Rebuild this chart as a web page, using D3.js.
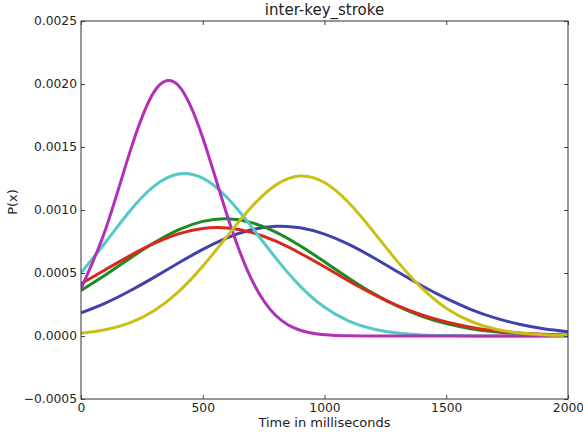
<!DOCTYPE html>
<html>
<head>
<meta charset="utf-8">
<script src="https://cdn.jsdelivr.net/npm/d3@7"></script>
<style>
  html, body { margin: 0; padding: 0; background: #fff; }
  #chart { width: 583px; height: 432px; }
  text { font-family: "DejaVu Sans", sans-serif; fill: #222; }
</style>
</head>
<body>
<div id="chart"></div>
<script>
// x sample points (ms)
const timeMs = [0, 100, 200, 300, 400, 500, 600, 700, 800, 900, 1000,
    1100, 1200, 1300, 1400, 1500, 1600, 1700, 1800, 1900, 2000];

// density values, one array per curve
const blueVals = [0.000183, 0.000261, 0.000357, 0.000465, 0.000579, 0.000687, 0.000779, 0.000843, 0.000871, 0.000859, 0.000809,
    0.000727, 0.000623, 0.000510, 0.000399, 0.000298, 0.000212, 0.000144, 0.0000935, 0.0000579, 0.0000342];
const greenVals = [0.000361, 0.000484, 0.000615, 0.000740, 0.000843, 0.000910, 0.000930, 0.000900, 0.000825, 0.000716, 0.000589,
    0.000459, 0.000338, 0.000236, 0.000156, 0.0000980, 0.0000582, 0.0000327, 0.0000174, 0.0000088, 0.0000042];
const redVals = [0.000415, 0.000526, 0.000636, 0.000735, 0.000810, 0.000853, 0.000857, 0.000822, 0.000752, 0.000657, 0.000549,
    0.000437, 0.000332, 0.000241, 0.000167, 0.000111, 0.0000698, 0.0000420, 0.0000242, 0.0000133, 0.0000070];
const cyanVals = [0.000501, 0.000742, 0.000990, 0.001189, 0.001286, 0.001253, 0.001099, 0.000868, 0.000618, 0.000396, 0.000228,
    0.000119, 0.0000555, 0.0000234, 0.0000089, 0.0000030, 0.0000009, 0.0000003, 0.0000001, 0, 0];
const magentaVals = [0.000376, 0.000842, 0.001455, 0.001937, 0.001988, 0.001573, 0.000959, 0.000451, 0.000163, 0.0000456, 0.0000098,
    0.0000016, 0.0000002, 0, 0, 0, 0, 0, 0, 0, 0];
const yellowVals = [0.0000208, 0.0000489, 0.000104, 0.000201, 0.000351, 0.000554, 0.000791, 0.001023, 0.001198, 0.001270, 0.001218,
    0.001057, 0.000830, 0.000590, 0.000380, 0.000221, 0.000117, 0.0000556, 0.0000240, 0.0000094, 0.0000033];

const xTicks = [0, 500, 1000, 1500, 2000];
const yTicks = [-0.0005, 0, 0.0005, 0.001, 0.0015, 0.002, 0.0025];

const series = [
    { values: blueVals, color: '#4141ad' },
    { values: greenVals, color: '#1e8a22' },
    { values: redVals, color: '#d8281e' },
    { values: cyanVals, color: '#55c8c8' },
    { values: magentaVals, color: '#b22fb8' },
    { values: yellowVals, color: '#c8c014' }
];

function renderChart(elementId) {
    const width = 583, height = 432;
    const margin = { top: 21, right: 15, bottom: 33, left: 81 };

    const svg = d3.select('#' + elementId)
        .append('svg')
        .attr('width', width)
        .attr('height', height);

    const x = d3.scaleLinear()
        .domain([0, 2000])
        .range([margin.left, width - margin.right]);

    const y = d3.scaleLinear()
        .domain([-0.0005, 0.0025])
        .range([height - margin.bottom, margin.top]);

    const line = d3.line()
        .x((d, i) => x(timeMs[i]))
        .y(d => y(d))
        .curve(d3.curveNatural);

    // clip to the plot area
    svg.append('clipPath').attr('id', 'plot-clip')
        .append('rect')
        .attr('x', margin.left).attr('y', margin.top)
        .attr('width', width - margin.left - margin.right)
        .attr('height', height - margin.top - margin.bottom);

    const plot = svg.append('g').attr('clip-path', 'url(#plot-clip)');
    series.forEach(s => {
        plot.append('path')
            .datum(s.values)
            .attr('fill', 'none')
            .attr('stroke', s.color)
            .attr('stroke-width', 3)
            .attr('stroke-linejoin', 'round')
            .attr('d', line);
    });

    const fmtY = d => d3.format('.4f')(d).replace('-', '\u2212');

    // axes: ticks inside, on all four sides
    const bottom = svg.append('g')
        .attr('transform', `translate(0,${height - margin.bottom})`)
        .call(d3.axisBottom(x).tickValues(xTicks).tickSize(-4).tickPadding(4).tickFormat(d3.format('d')));
    const top = svg.append('g')
        .attr('transform', `translate(0,${margin.top})`)
        .call(d3.axisTop(x).tickValues(xTicks).tickSize(-4).tickFormat(''));
    const left = svg.append('g')
        .attr('transform', `translate(${margin.left},0)`)
        .call(d3.axisLeft(y).tickValues(yTicks).tickSize(-4).tickPadding(4).tickFormat(fmtY));
    const right = svg.append('g')
        .attr('transform', `translate(${width - margin.right},0)`)
        .call(d3.axisRight(y).tickValues(yTicks).tickSize(-4).tickFormat(''));

    [bottom, top, left, right].forEach(g => {
        g.select('.domain').remove();
        g.selectAll('line').attr('stroke', '#444');
        g.selectAll('text').attr('font-size', '12.3px').attr('fill', '#222')
            .attr('font-family', '"DejaVu Sans", sans-serif');
    });

    // frame
    svg.append('rect')
        .attr('x', margin.left).attr('y', margin.top)
        .attr('width', width - margin.left - margin.right)
        .attr('height', height - margin.top - margin.bottom)
        .attr('fill', 'none')
        .attr('stroke', '#333')
        .attr('stroke-width', 1);

    // title and labels
    svg.append('text')
        .attr('x', (margin.left + width - margin.right) / 2)
        .attr('y', 15)
        .attr('text-anchor', 'middle')
        .attr('font-size', '15px')
        .text('inter-key_stroke');

    svg.append('text')
        .attr('x', (margin.left + width - margin.right) / 2)
        .attr('y', 427)
        .attr('text-anchor', 'middle')
        .attr('font-size', '13px')
        .text('Time in milliseconds');

    svg.append('text')
        .attr('transform', 'translate(17,202) rotate(-90)')
        .attr('text-anchor', 'middle')
        .attr('font-size', '13px')
        .text('P(x)');
}

renderChart('chart');
</script>
</body>
</html>
